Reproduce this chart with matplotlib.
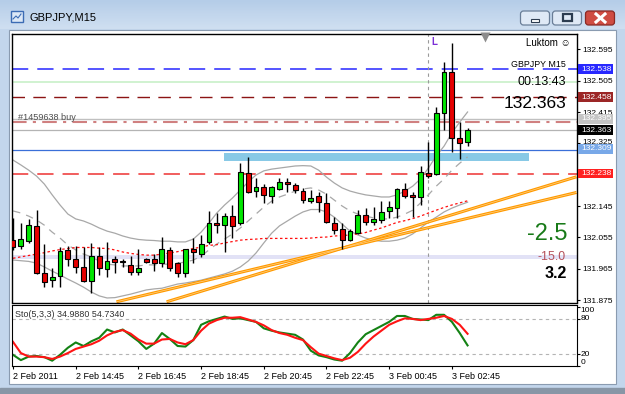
import matplotlib.pyplot as plt
import matplotlib.transforms as mtrans
from matplotlib.patches import Rectangle, FancyBboxPatch
import numpy as np

plt.rcParams['font.family'] = ['Liberation Sans', 'DejaVu Sans']

W, H = 625, 394

# ---- data ----
opens = [132.047, 132.031, 132.045, 132.088, 131.952, 131.932, 131.945, 132.019, 131.993, 131.971,
         131.930, 132.001, 131.964, 131.992, 131.986, 131.976, 131.956, 131.993, 131.993, 131.980,
         132.019, 131.980, 131.953, 132.023, 132.006, 132.042, 132.097, 132.090, 132.116, 132.095,
         132.241, 132.189, 132.199, 132.175, 132.193, 132.213, 132.205, 132.189, 132.160, 132.174,
         132.154, 132.097, 132.078, 132.047, 132.068, 132.118, 132.098, 132.105, 132.131, 132.138,
         132.194, 132.177, 132.170, 132.241, 132.236, 132.411, 132.531, 132.339, 132.328]
highs = [132.110, 132.096, 132.108, 132.133, 132.036, 131.967, 132.028, 132.031, 132.031, 132.028,
         132.038, 132.028, 132.042, 132.001, 131.993, 132.001, 132.021, 131.995, 132.007, 132.057,
         132.028, 131.985, 132.021, 132.052, 132.062, 132.131, 132.124, 132.126, 132.148, 132.268,
         132.287, 132.225, 132.208, 132.202, 132.225, 132.225, 132.210, 132.198, 132.191, 132.186,
         132.183, 132.114, 132.097, 132.078, 132.135, 132.138, 132.143, 132.160, 132.160, 132.196,
         132.210, 132.186, 132.261, 132.330, 132.430, 132.558, 132.612, 132.385, 132.368]
lows = [132.019, 132.021, 132.039, 131.951, 131.913, 131.912, 131.913, 131.973, 131.952, 131.926,
        131.894, 131.947, 131.942, 131.952, 131.969, 131.947, 131.947, 131.981, 131.959, 131.969,
        131.959, 131.942, 131.942, 131.980, 131.998, 132.035, 132.067, 132.014, 132.052, 132.090,
        132.181, 132.172, 132.153, 132.154, 132.191, 132.186, 132.183, 132.154, 132.154, 132.129,
        132.095, 132.065, 132.021, 132.044, 132.066, 132.090, 132.090, 132.095, 132.110, 132.111,
        132.167, 132.114, 132.148, 132.225, 132.234, 132.363, 132.299, 132.279, 132.318]
closes = [132.028, 132.050, 132.090, 131.953, 131.928, 131.942, 132.016, 131.993, 131.971, 131.930,
          132.001, 131.966, 131.987, 131.985, 131.985, 131.956, 131.968, 131.983, 131.980, 132.021,
          131.966, 131.953, 132.021, 132.012, 132.035, 132.097, 132.090, 132.116, 132.088, 132.243,
          132.186, 132.199, 132.177, 132.199, 132.213, 132.207, 132.191, 132.162, 132.169, 132.156,
          132.098, 132.076, 132.047, 132.073, 132.119, 132.099, 132.108, 132.129, 132.143, 132.194,
          132.174, 132.170, 132.242, 132.231, 132.411, 132.531, 132.339, 132.325, 132.363]

bb_upper = [132.277, 132.263, 132.248, 132.231, 132.208, 132.177, 132.148, 132.122, 132.108, 132.102,
            132.093, 132.082, 132.073, 132.067, 132.059, 132.053, 132.049, 132.047, 132.046, 132.044,
            132.044, 132.042, 132.042, 132.050, 132.070, 132.096, 132.125, 132.148, 132.168, 132.191,
            132.214, 132.234, 132.246, 132.251, 132.254, 132.257, 132.260, 132.261, 132.260, 132.248,
            132.228, 132.211, 132.197, 132.188, 132.182, 132.177, 132.174, 132.171, 132.171, 132.177,
            132.188, 132.202, 132.223, 132.254, 132.289, 132.317, 132.355, 132.386, 132.415]
bb_mid = [132.131, 132.125, 132.116, 132.105, 132.090, 132.070, 132.053, 132.033, 132.019, 132.007,
          131.999, 131.987, 131.978, 131.976, 131.973, 131.973, 131.973, 131.976, 131.976, 131.978,
          131.978, 131.981, 131.984, 131.990, 132.001, 132.019, 132.036, 132.050, 132.065, 132.082,
          132.102, 132.122, 132.142, 132.159, 132.171, 132.179, 132.188, 132.194, 132.197, 132.191,
          132.179, 132.162, 132.145, 132.131, 132.122, 132.116, 132.111, 132.108, 132.108, 132.113,
          132.122, 132.133, 132.154, 132.177, 132.202, 132.223, 132.248, 132.268, 132.286]
bb_lower = [131.990, 131.988, 131.986, 131.981, 131.970, 131.958, 131.947, 131.935, 131.924, 131.912,
            131.898, 131.887, 131.881, 131.882, 131.887, 131.892, 131.898, 131.904, 131.907, 131.909,
            131.915, 131.921, 131.924, 131.928, 131.932, 131.938, 131.944, 131.950, 131.958, 131.970,
            131.987, 132.010, 132.039, 132.067, 132.088, 132.102, 132.116, 132.128, 132.135, 132.135,
            132.128, 132.113, 132.093, 132.073, 132.062, 132.053, 132.047, 132.044, 132.044, 132.047,
            132.053, 132.065, 132.082, 132.099, 132.113, 132.128, 132.139, 132.148, 132.156]
ma_red = [131.995, 131.999, 132.003, 132.007, 132.011, 132.016, 132.020, 132.023, 132.026, 132.026,
          132.026, 132.024, 132.023, 132.019, 132.013, 132.009, 132.006, 132.004, 132.004, 132.007,
          132.010, 132.014, 132.019, 132.023, 132.027, 132.032, 132.034, 132.039, 132.043, 132.047,
          132.049, 132.050, 132.052, 132.052, 132.052, 132.052, 132.052, 132.052, 132.053, 132.055,
          132.056, 132.059, 132.060, 132.062, 132.065, 132.069, 132.076, 132.082, 132.090, 132.098,
          132.103, 132.109, 132.116, 132.125, 132.133, 132.141, 132.148, 132.154, 132.160]

sto_k = [19, 10, 16, 17, 15, 9, 19, 31, 40, 34, 42, 48, 62, 57, 62, 52, 42, 29, 38, 56,
         46, 34, 33, 44, 70, 76, 80, 84, 80, 81, 78, 75, 64, 60, 57, 55, 53, 45, 26, 18,
         15, 11, 9, 22, 40, 54, 61, 68, 75, 85, 85, 80, 79, 78, 87, 87, 75, 56, 34.988]
sto_d = [41, 22, 16, 16, 15, 12, 16, 22, 29, 33, 37, 43, 52, 58, 61, 55, 45, 38, 38, 45,
         46, 40, 37, 44, 60, 72, 78, 82, 82, 83, 79, 75, 69, 61, 56, 53, 48, 44, 32, 21,
         17, 13, 10, 14, 24, 38, 50, 60, 70, 76, 81, 80, 78, 80, 82, 85, 80, 70, 54.734]

time_ticks = [0, 8, 16, 24, 32, 40, 48, 56]
time_labels = ['2 Feb 2011', '2 Feb 14:45', '2 Feb 16:45', '2 Feb 18:45',
               '2 Feb 20:45', '2 Feb 22:45', '3 Feb 00:45', '3 Feb 02:45']
price_ticks = [132.595, 132.505, 132.415, 132.325, 132.235, 132.145, 132.055, 131.965, 131.875]

# horizontal levels: price, colour, width, style
levels = [(132.538, '#4646ff', 1.3, (0, (9, 5))),
          (132.500, '#c8f0c8', 1.2, '-'),
          (132.458, '#8c1414', 1.0, (0, (9, 6))),
          (132.395, '#c0c0c0', 1.0, '-'),
          (132.386, '#d08080', 1.5, (0, (7, 3, 1.5, 3))),
          (132.363, '#b4b4b4', 0.9, '-'),
          (132.306, '#3a6fd8', 0.9, '-'),
          (132.238, '#f05050', 1.3, (0, (9, 5)))]
price_boxes = [(132.538, '#2828ff'), (132.458, '#9c2626'), (132.395, '#c4c4c4'),
               (132.363, '#000000'), (132.309, '#78a8e8'), (132.238, '#ff2020')]
zone_x = [26.9, 65.9]
zone_p = [132.274, 132.296]
band_p = [131.994, 132.005]
trend1 = [[13.2, 71.9], [131.870, 132.184]]
trend2 = [[19.6, 71.9], [131.870, 132.229]]
vline_bar = 53
shift_bar = 60.1

fig = plt.figure(figsize=(W / 100, H / 100), dpi=100)


def px_axes(x0, y0, x1, y1, **kw):
    return fig.add_axes([x0 / W, 1 - y1 / H, (x1 - x0) / W, (y1 - y0) / H], **kw)


# ---- window chrome ----
bg = px_axes(0, 0, W, H)
bg.set_xlim(0, W)
bg.set_ylim(H, 0)
bg.axis('off')
bg.add_patch(Rectangle((0, 0), W, H, color='#c3d6ec', zorder=0))
grad = np.linspace(0, 1, 30)[:, None]
bg.imshow(grad, extent=[0, W, 29, 0], cmap=plt.matplotlib.colors.LinearSegmentedColormap.from_list(
    'tb', ['#b5cde8', '#cfdff1']), aspect='auto', zorder=1)
bg.add_patch(Rectangle((0, 388), W, 6, color='#8896a6', zorder=1))
bg.add_patch(Rectangle((8.5, 29.5), 607, 354, facecolor='white', edgecolor='#8a9bb0', lw=0.8, zorder=2))
# icon + title
bg.add_patch(Rectangle((11, 11), 12, 11, facecolor='#dce8f6', edgecolor='#3c6cb4', lw=1, zorder=3))
bg.plot([13, 16, 18, 21], [19, 16, 18, 14], color='#3c6cb4', lw=0.8, zorder=4)
bg.text(30, 17.5, 'GBPJPY,M15', fontsize=8, va='center', ha='left', color='black', zorder=4)
# buttons
for bx, face, edge in [(520.5, '#dfe9f6', '#6a7e98'), (552.5, '#dfe9f6', '#6a7e98'), (585.5, '#cf4c42', '#8a2a24')]:
    bg.add_patch(FancyBboxPatch((bx, 11), 29, 14, boxstyle='round,pad=0,rounding_size=3',
                                facecolor=face, edgecolor=edge, lw=0.9, zorder=3))
bg.add_patch(Rectangle((531, 19), 8, 2.5, facecolor='white', edgecolor='#2c3c50', lw=0.8, zorder=4))
bg.add_patch(Rectangle((563, 14), 9, 7, facecolor='none', edgecolor='#2c3c50', lw=1.6, zorder=4))
bg.plot([596, 605], [14, 22], color='white', lw=2.2, zorder=4)
bg.plot([596, 605], [22, 14], color='white', lw=2.2, zorder=4)

# ---- main price panel ----
ax = px_axes(12, 34, 576.5, 302.5)
ax.set_xlim(-0.13, 71.9)
ax.set_ylim(131.868, 132.639)
for s in ax.spines.values():
    s.set_linewidth(1.0)
ax.set_xticks([])
ax.yaxis.tick_right()
ax.set_yticks(price_ticks)
# 132.235 sits under the red price box, so it shows no text
ax.set_yticklabels(['' if abs(p - 132.235) < 1e-6 else f'{p:.3f}' for p in price_ticks])
ax.tick_params(axis='y', direction='out', length=2.5, pad=1.5, labelsize=6, width=0.8)
# 132.325 peeks out just above the blue price box
lab = ax.get_yticklabels()[3]
lab.set_transform(lab.get_transform() + mtrans.ScaledTranslation(0, 1.8 / 100, fig.dpi_scale_trans))

ax.axhspan(band_p[0], band_p[1], color='#e2e2f6', lw=0, zorder=1)
ax.add_patch(Rectangle((zone_x[0], zone_p[0]), zone_x[1] - zone_x[0], zone_p[1] - zone_p[0],
                       color='#88c9e6', lw=0, zorder=1.2))
for p, col, lw, ls in levels:
    ax.axhline(p, color=col, lw=lw, ls=ls, zorder=1.5)
ax.axvline(vline_bar, color='#9a9a9a', lw=0.8, ls=(0, (3, 3)), zorder=1.5)

idx = np.arange(len(closes))
ax.plot(idx, bb_upper, color='#a8a8a8', lw=0.9, zorder=2)
ax.plot(idx, bb_lower, color='#a8a8a8', lw=0.9, zorder=2)
ax.plot(idx, bb_mid, color='#a8a8a8', lw=0.9, ls=(0, (6, 5)), zorder=2)
ax.plot(idx, ma_red, color='#ff1010', lw=0.9, ls=(0, (2, 2)), zorder=2)
for tl in (trend1, trend2):
    ax.plot(tl[0], tl[1], color='#ff9a00', lw=2.2, zorder=2.5, solid_capstyle='butt')
    ax.plot(tl[0], tl[1], color='#ffd28a', lw=0.5, zorder=2.6)

o = np.array(opens)
c = np.array(closes)
up = c >= o
ax.vlines(idx, lows, highs, color='black', lw=1, zorder=4)
ax.bar(idx, np.abs(c - o), bottom=np.minimum(o, c), width=0.62,
       color=np.where(up, '#00e600', '#e60000'), edgecolor='black', linewidth=0.8, zorder=5)

# price label boxes on the scale
bt = mtrans.blended_transform_factory(ax.transAxes, ax.transData)
for p, col in price_boxes:
    ax.add_patch(Rectangle((1.0035, p - 0.0135), 0.0615, 0.027, transform=bt, facecolor=col,
                           edgecolor='none', clip_on=False, zorder=6))
    ax.text(1.0085, p, f'{p:.3f}', transform=bt, color='white', fontsize=6, va='center',
            ha='left', zorder=7, clip_on=False)

# ---- stochastic panel ----
sx = px_axes(12, 304.5, 576.5, 366)
sx.set_xlim(-0.13, 71.9)
sx.set_ylim(0, 104.5)
sx.axhline(80, color='#b4b4b4', lw=0.8, ls=(0, (3, 3)))
sx.axhline(20, color='#b4b4b4', lw=0.8, ls=(0, (3, 3)))
sx.plot(idx, sto_k, color='#148214', lw=1.5)
sx.plot(idx, sto_d, color='#ff1414', lw=1.5)
sx.set_xticks(time_ticks)
sx.set_xticklabels(time_labels, ha='left')
sx.tick_params(axis='x', direction='out', length=2.5, pad=2, labelsize=6.5, width=0.8)
sx.yaxis.tick_right()
sx.set_yticks([0, 20, 80, 100])
sx.set_yticklabels(['0', '20', '80', '100'])
sx.tick_params(axis='y', direction='out', length=2, pad=1, labelsize=6, width=0.8)
for lab, va in zip(sx.get_yticklabels(), ['bottom', 'center', 'center', 'top']):
    lab.set_va(va)
sx.text(0.006, 0.83, 'Sto(5,3,3) 34.9880 54.7340', transform=sx.transAxes, fontsize=6.4,
        color='#303030', va='center', ha='left')

# ---- overlay texts ----
top = px_axes(0, 0, W, H, zorder=10)
top.set_xlim(0, W)
top.set_ylim(H, 0)
top.axis('off')
top.text(571, 43, 'Luktom \u263a', fontsize=7, ha='right', va='center')
top.text(566, 64, 'GBPJPY M15', fontsize=6.4, ha='right', va='center')
top.text(566, 81.5, '00:13:43', fontsize=9, ha='right', va='center')
top.text(566, 103.5, '132.363', fontsize=12.5, ha='right', va='center')
top.text(567, 234, '-2.5', fontsize=17, ha='right', va='center', color='#187a18')
top.text(566, 257, '-15.0', fontsize=8.9, ha='right', va='center', color='#b4505a')
top.text(567, 274, '3.2', fontsize=11.5, ha='right', va='center', fontweight='bold')
top.text(18, 117.5, '#1459638 buy', fontsize=6.6, ha='left', va='center', color='#505050')
top.text(434, 41.5, 'L', fontsize=7, ha='center', va='center', color='#7b2fd6', fontweight='bold')
top.plot([484.5], [36.5], marker='v', ms=6.5, color='#8c8c8c', mec='none')

fig.savefig('out.png', dpi=100)
